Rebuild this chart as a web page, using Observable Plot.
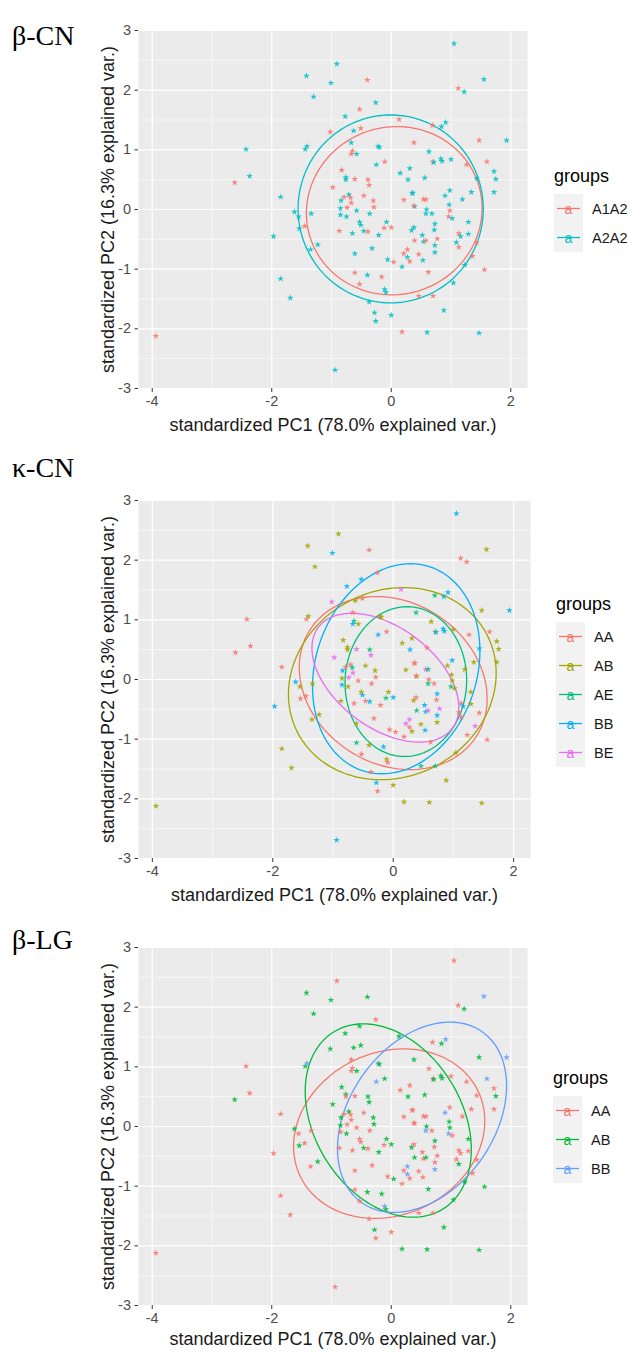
<!DOCTYPE html>
<html><head><meta charset="utf-8">
<script src="https://cdn.jsdelivr.net/npm/d3@7"></script>
<script src="https://cdn.jsdelivr.net/npm/@observablehq/plot@0.6"></script>
<style>
body{margin:0;background:#fff;font-family:"Liberation Sans",Arial,sans-serif}
#page{position:relative;width:630px;height:1352px;overflow:hidden;background:#fff}
.panel{position:absolute;left:0;width:630px}
.ptitle{position:absolute;left:12px;font-family:"Liberation Serif","Times New Roman",serif;font-size:28px;color:#000;line-height:1}
.lg{position:absolute;font-family:"Liberation Sans",Arial,sans-serif;color:#000}
.lg .ttl{font-size:18px;position:absolute;left:0;white-space:nowrap;line-height:1}
.lg .row{position:absolute;left:0;height:29px;width:120px}
.lg .row span{position:absolute;left:38px;top:50%;transform:translateY(-50%);font-size:14.5px;color:#1a1a1a}
</style></head><body><div id="page"></div>
<script>
// ---------- data ----------
const pc1 = [1.05,-0.91,-1.42,-1.01,-0.40,1.55,1.12,1.22,-1.30,-0.26,
-0.53,-0.77,0.13,-0.51,-0.63,-1.02,0.69,0.84,0.91,1.93,
1.47,0.38,-0.67,-1.44,-1.41,-2.43,-0.22,-0.20,-0.65,-0.67,
-0.58,0.63,-0.11,-0.25,0.70,0.71,0.83,0.85,1.00,1.60,
1.26,-0.83,0.31,0.15,1.72,1.75,-0.76,-0.76,-0.61,-0.39,
-0.37,0.28,0.56,-2.37,-2.62,-0.98,0.35,0.36,0.98,1.34,
1.72,0.90,1.19,-0.71,-0.68,-0.79,-0.46,-1.85,0.54,0.58,
0.21,-0.84,-0.30,-0.67,-0.74,-0.29,0.39,0.38,0.59,0.97,
0.98,-1.62,-1.55,-1.45,-1.54,-1.34,-1.97,-1.23,-1.35,-0.85,
-0.85,-0.75,-0.58,-0.87,-0.65,-0.53,-0.51,-0.46,-0.36,-0.39,
-0.21,-0.12,-0.08,0.00,-0.61,-0.32,-0.06,0.04,0.18,0.21,
0.27,0.27,0.31,0.34,0.38,0.39,0.46,0.52,0.54,0.58,
0.53,0.58,0.68,0.72,0.73,0.73,0.73,0.77,0.62,0.96,
1.02,1.13,1.16,1.09,1.13,1.29,1.29,1.36,1.23,1.56,
1.04,0.88,0.70,0.46,0.60,0.18,1.47,0.00,-0.28,-0.26,
-0.37,-0.11,-0.09,-0.16,-0.40,-0.61,-0.53,-0.94,-1.85,-1.69,
-3.94,1.43,1.43];
const pc2 = [2.78,2.44,2.24,2.12,2.17,2.18,2.03,1.97,1.89,1.79,
1.68,1.56,1.51,1.36,1.32,1.30,1.41,1.39,1.46,1.16,
1.16,1.12,1.12,1.01,1.06,1.01,1.06,1.04,0.98,0.93,
0.93,0.97,0.80,0.75,0.80,0.79,0.85,0.81,0.84,0.80,
0.75,0.66,0.69,0.61,0.64,0.51,0.54,0.50,0.51,0.50,
0.41,0.50,0.53,0.56,0.45,0.37,0.27,0.28,0.32,0.29,
0.29,0.23,0.17,0.25,0.20,0.21,0.23,0.21,0.17,0.17,
0.16,0.15,0.15,0.11,0.03,0.04,0.05,0.06,0.00,0.08,
-0.02,-0.04,-0.12,-0.28,-0.32,-0.07,-0.45,-0.59,-0.67,0.02,
-0.09,-0.12,-0.02,-0.36,-0.40,-0.21,-0.26,-0.36,-0.07,-0.37,
-0.43,-0.31,-0.21,-0.30,-0.74,-0.65,-0.84,-0.88,-0.96,-0.74,
-0.67,-0.80,-0.87,-0.35,-0.30,-0.52,-0.75,-0.43,-0.54,-0.52,
-0.85,-0.07,-0.07,-0.34,-0.24,-0.60,-0.72,-0.49,-1.05,-0.12,
-0.15,-0.40,-0.45,-0.55,-0.63,-0.21,-0.41,-0.78,-0.93,-1.01,
-1.23,-1.69,-1.45,-1.45,-2.06,-2.05,-2.07,-1.77,-1.73,-1.87,
-1.55,-1.34,-1.39,-1.13,-1.10,-1.06,-1.25,-2.69,-1.16,-1.48,
-2.12,0.52,-0.56];
// beta-CN genotype per sample (r = A1A2, t = A2A2)
const betaCN = "ttttrtrttt rtrrtrrttt rrttttttrr ttrtrttttr rrttttttrr rtttrrtttt ttttrrrtrr rtrrrrtrtt rttrtttttt tttrtttttr trtrtttrtr rtrttrrttr tttttttrrr trttrttrtr ttrrtrtttt tttrtrrttt rtr"
  .replace(/ /g,"").split("").map(c => c === "r" ? "A1A2" : "A2A2");
// kappa-CN genotype per sample
const kappaCN = ["BB","AB","AB","BB","AA","AB","AA","AA","AB","AA",
"BB","BB","BE","AA","AB","BE","AE","BB","BB","BB",
"AB","AE","AA","AA","AB","AA","AB","AB","AE","BB",
"AB","AB","AA","BB","AB","BB","BB","BB","AB","AA",
"AA","AB","AB","AB","AB","AB","AB","AB","BE","AE",
"BE","BB","AA","AA","AA","BE","AA","AA","BB","AB",
"AB","AB","AB","AA","AE","AA","AB","AA","BE","AE",
"AB","BB","AB","BE","BE","AA","AB","AA","AA","AB",
"AB","BB","AB","AA","AA","AB","BB","AB","AB","AB",
"BB","AB","AA","AB","AA","AB","BB","AA","AA","BB",
"AA","AE","AB","BB","AB","AA","AA","AA","AA","BE",
"BE","AA","AB","AB","AA","AE","AB","BB","BB","BE",
"BB","AE","AA","AA","BB","BB","AB","BE","AA","AE",
"AB","AA","BB","AA","AA","AB","AB","BE","AA","AA",
"AB","AB","AE","AE","AB","AB","AB","AB","BB","AA",
"AA","AB","AA","BB","AB","AE","AA","BB","AB","AB",
"AB","BB","AA"];
// beta-LG genotype per sample
const betaLG = ["AA","AA","AB","AB","AB","BB","AA","AB","AB","AA",
"AB","AB","AB","AB","AB","AB","AA","AB","BB","BB",
"AB","AB","AA","AB","BB","AA","BB","AB","AA","AA",
"AB","AA","AB","BB","AA","AB","AB","AB","AA","BB",
"AA","AB","AA","AA","AA","AB","AB","AA","AA","AB",
"AB","AB","AB","AA","AB","AB","AA","AA","AA","AA",
"AA","BB","AA","AB","AA","AA","AA","AA","AA","AA",
"AA","AB","AB","AA","AA","AB","AA","AA","AB","AB",
"AB","AB","AA","AA","AB","AA","AA","AB","AA","AB",
"AA","AB","AA","AA","AA","AA","AA","AB","AA","AA",
"AB","AA","AB","AB","AA","AA","AA","AB","AA","AA",
"BB","BB","AA","AB","AA","AB","AA","AA","AA","AB",
"AA","BB","AA","AA","AB","AA","BB","AA","AB","BB",
"AA","AA","AA","AA","AB","AB","AA","AA","AB","AB",
"AB","AB","AA","AA","AB","AB","AB","AA","AB","AA",
"AA","BB","AB","AB","AB","AA","AA","AA","AA","AA",
"AA","AA","AA"];

// group names and colours
const betaCNGroups = ["A1A2","A2A2"];
const betaCNColors = ["#F8766D","#00BFC4"];
const kappaCNGroups = ["AA","AB","AE","BB","BE"];
const kappaCNColors = ["#F8766D","#A3A500","#00BF7D","#00B0F6","#E76BF3"];
const betaLGGroups = ["AA","AB","BB"];
const betaLGColors = ["#F8766D","#00BA38","#619CFF"];

// ellipse parameters per group: centre, half-extent in x and y, correlation
const betaCNEllCx = [0.05,-0.01], betaCNEllCy = [-0.02,0.01], betaCNEllHx = [1.47,1.55], betaCNEllHy = [1.41,1.575], betaCNEllRho = [0.03,0.0];
const kappaCNEllCx = [0.0,-0.015,0.21,0.05,-0.13], kappaCNEllCy = [-0.06,-0.07,-0.035,0.18,0.03],
      kappaCNEllHx = [1.56,1.725,1.01,1.39,1.22], kappaCNEllHy = [1.45,1.61,1.255,1.76,1.08], kappaCNEllRho = [-0.18,0.11,0.02,0.17,-0.46];
const betaLGEllCx = [-0.035,-0.05,0.515], betaLGEllCy = [-0.12,0.10,0.155],
      betaLGEllHx = [1.6,1.39,1.415], betaLGEllHy = [1.42,1.62,1.595], betaLGEllRho = [0.15,-0.30,0.33];

const xTicks = [-4,-2,0,2], yTicks = [-3,-2,-1,0,1,2,3];
const xMinor = [-3,-1,1], yMinor = [-2.5,-1.5,-0.5,0.5,1.5,2.5];
const xTitle = "standardized PC1 (78.0% explained var.)";
const yTitle = "standardized PC2 (16.3% explained var.)";

// ---------- layout ----------
const panels = [
  {name:"β-CN", top:0, titleTop:22, groupsOf:betaCN, names:betaCNGroups, colors:betaCNColors,
   ell:[betaCNEllCx,betaCNEllCy,betaCNEllHx,betaCNEllHy,betaCNEllRho], mr:103, height:440, legendTop:167, legendLeft:554, xtDy:37},
  {name:"κ-CN", top:470, titleTop:454, groupsOf:kappaCN, names:kappaCNGroups, colors:kappaCNColors,
   ell:[kappaCNEllCx,kappaCNEllCy,kappaCNEllHx,kappaCNEllHy,kappaCNEllRho], mr:100, height:440, legendTop:595, legendLeft:556, xtDy:37},
  {name:"β-LG", top:917, titleTop:926, groupsOf:betaLG, names:betaLGGroups, colors:betaLGColors,
   ell:[betaLGEllCx,betaLGEllCy,betaLGEllHx,betaLGEllHy,betaLGEllRho], mr:103, height:435, legendTop:1069, legendLeft:553, xtDy:34}
];

const page = document.getElementById("page");
const fmt = d => String(d);

panels.forEach(p => {
  const pts = pc1.map((x,i) => ({x, y: pc2[i], g: p.groupsOf[i]}));
  const [cxA, cyA, hxA, hyA, rhoA] = p.ell;
  const ell = [];
  p.names.forEach((nm,k) => {
    const s = Math.sqrt(1 - rhoA[k]*rhoA[k]);
    for (let j = 0; j <= 144; j++) {
      const t = 2*Math.PI*j/144;
      ell.push({g: nm, x: cxA[k] + hxA[k]*Math.cos(t), y: cyA[k] + hyA[k]*(rhoA[k]*Math.cos(t) + s*Math.sin(t))});
    }
  });
  const chart = Plot.plot({
    width: 630, height: p.height,
    marginTop: 30, marginLeft: 138, marginRight: p.mr, marginBottom: p.height - 30 - 358,
    x: {domain: [-4.23, 2.28], label: null},
    y: {domain: [-3, 3], label: null},
    color: {domain: p.names, range: p.colors},
    style: {fontFamily: "Liberation Sans, Arial, sans-serif", background: "transparent", overflow: "visible"},
    marks: [
      Plot.frame({fill: "#EBEBEB", stroke: null}),
      Plot.gridX(xMinor, {stroke: "#fff", strokeOpacity: 1, strokeWidth: 0.6}),
      Plot.gridY(yMinor, {stroke: "#fff", strokeOpacity: 1, strokeWidth: 0.6}),
      Plot.gridX(xTicks, {stroke: "#fff", strokeOpacity: 1, strokeWidth: 1.2}),
      Plot.gridY(yTicks, {stroke: "#fff", strokeOpacity: 1, strokeWidth: 1.2}),
      Plot.axisX(xTicks, {tickSize: 4, tickPadding: 3, fontSize: 14.5, stroke: "#333", fill: "#4D4D4D", tickFormat: fmt, label: null}),
      Plot.axisY(yTicks, {tickSize: 3.5, tickPadding: 4, fontSize: 14.5, stroke: "#333", fill: "#4D4D4D", tickFormat: fmt, label: null}),
      Plot.line(ell, {x: "x", y: "y", z: "g", stroke: "g", strokeWidth: 1.3}),
      Plot.dot(pts, {x: "x", y: "y", fill: "g", symbol: "star", r: 2.1, fillOpacity: 0.85}),
      Plot.text([xTitle], {text: d => d, frameAnchor: "bottom", dy: p.xtDy, fontSize: 18, fill: "#1a1a1a", textAnchor: "middle", lineAnchor: "middle"}),
      Plot.text([yTitle], {text: d => d, frameAnchor: "left", dx: -30, rotate: -90, fontSize: 18, fill: "#1a1a1a", textAnchor: "middle", lineAnchor: "middle"})
    ]
  });
  const wrap = document.createElement("div");
  wrap.className = "panel";
  wrap.style.top = p.top + "px";
  wrap.appendChild(chart);
  page.appendChild(wrap);

  const ttl = document.createElement("div");
  ttl.className = "ptitle";
  ttl.style.top = p.titleTop + "px";
  ttl.textContent = p.name;
  page.appendChild(ttl);

  // legend
  const lg = document.createElement("div");
  lg.className = "lg";
  lg.style.left = p.legendLeft + "px";
  lg.style.top = p.legendTop + "px";
  const t = document.createElement("div");
  t.className = "ttl"; t.textContent = "groups"; t.style.top = "0px";
  lg.appendChild(t);
  p.names.forEach((nm,k) => {
    const row = document.createElement("div");
    row.className = "row";
    row.style.top = (27 + 29*k) + "px";
    row.innerHTML = `<svg width="29" height="29" style="position:absolute;left:0;top:0"><rect width="29" height="29" fill="#F2F2F2"/><line x1="3" x2="26" y1="14.5" y2="14.5" stroke="${p.colors[k]}" stroke-width="1.3"/><text x="14.5" y="19.5" text-anchor="middle" font-size="14" font-family="Liberation Sans, Arial, sans-serif" fill="${p.colors[k]}">a</text></svg><span>${nm}</span>`;
    lg.appendChild(row);
  });
  page.appendChild(lg);
});
</script></body></html>
